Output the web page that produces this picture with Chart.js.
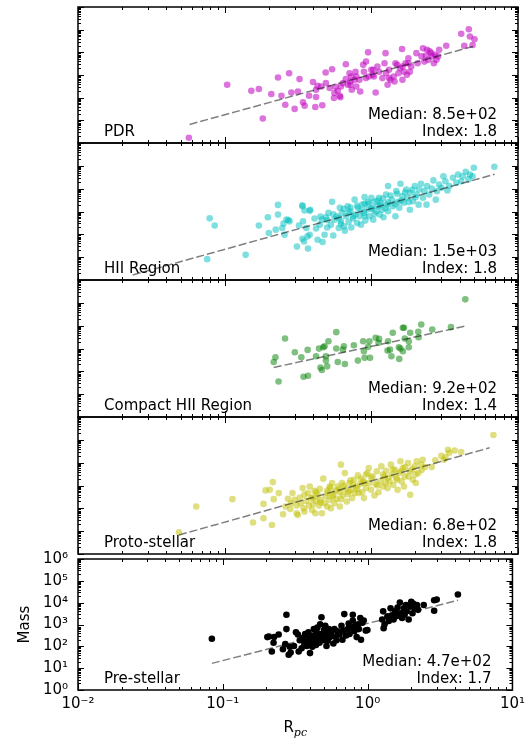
<!DOCTYPE html>
<html>
<head>
<meta charset="utf-8">
<script src="https://cdn.jsdelivr.net/npm/chart.js@4.4.1/dist/chart.umd.min.js"></script>
<style>
  body { margin: 0; background: #fff; }
  #wrap { position: relative; width: 530px; height: 739px; }
  canvas { position: absolute; left: 0; }
</style>
</head>
<body>
<div id="wrap">
  <canvas id="c0"></canvas>
  <canvas id="c1"></canvas>
  <canvas id="c2"></canvas>
  <canvas id="c3"></canvas>
  <canvas id="c4"></canvas>
</div>
<script>
// [R_pc, Mass]
const pdrPoints = [
  [0.057,1.7],[0.104,370],[0.152,200],[0.171,240],[0.182,12],[0.208,145],[0.231,780],[0.244,121],
  [0.259,49],[0.275,1200],[0.285,170],[0.300,32],[0.316,187],[0.324,660],[0.342,62],[0.351,44],
  [0.376,121],[0.40,490],[0.415,39],[0.42,224],[0.43,330],[0.463,46],[0.488,1290],[0.49,440],
  [0.52,265],[0.54,1800],[0.556,96],[0.56,160],[0.59,200],[0.61,120],[0.62,310],[0.64,440],
  [0.67,3000],[0.67,660],[0.71,1200],[0.72,370],[0.73,860],[0.735,224],[0.77,610],[0.78,1400],
  [0.79,310],[0.83,610],[0.84,187],[0.88,2800],[0.89,1400],[0.92,3900],[0.95,10000],[0.96,860],
  [1.0,1700],[1.02,1020],[1.04,860],[1.07,170],[1.1,2350],[1.13,1400],[1.19,730],[1.23,3300],
  [1.25,9200],[1.26,1200],[1.29,370],[1.32,1700],[1.35,610],[1.42,860],[1.44,520],[1.46,3300],
  [1.5,2800],[1.53,1200],[1.57,2000],[1.62,14000],[1.63,610],[1.67,1400],[1.71,3300],[1.75,1020],
  [1.79,5500],[1.83,1400],[1.87,2350],[2.03,9200],[2.07,3300],[2.25,15000],[2.3,3900],[2.35,7000],
  [2.4,13000],[2.45,4700],[2.56,9200],[2.6,6600],[2.67,3300],[2.72,7800],[2.85,6600],[2.9,13000],
  [3.24,19500],[4.10,66000],[4.3,19500],[4.62,105000],[4.7,50000],[4.9,21000],[5.05,38000],
  [0.42,107],[0.455,310],[0.57,300],[0.615,105],[0.69,370],[0.72,520],[0.79,860],[0.92,730],
  [1.03,1700],[1.32,730],[1.63,2350],[1.79,3300],[2.2,6600],[2.5,11000],[2.78,4700]
];
const hiiPoints = [
  [0.079,500],[0.0855,245],[0.076,8.2],[0.139,12.6],[0.171,245],[0.197,560],[0.20,114],[0.223,160],
  [0.231,730],[0.231,1950],[0.247,190],[0.252,295],[0.272,425],[0.256,96],[0.311,29],[0.321,245],
  [0.339,1700],[0.342,370],[0.339,64],[0.348,49],[0.367,81],[0.37,24],[0.38,1070],[0.264,440],
  [0.277,370],[0.339,1870],[0.35,1100],[0.36,190],[0.38,96],[0.383,1200],[0.41,490],[0.43,58],
  [0.445,265],[0.46,440],[0.465,46],[0.48,96],[0.49,560],[0.50,200],[0.51,870],[0.53,265],
  [0.54,2650],[0.55,89],[0.56,440],[0.58,615],[0.60,190],[0.61,1450],[0.62,370],[0.63,870],
  [0.65,224],[0.66,145],[0.67,615],[0.69,1700],[0.70,350],[0.72,1020],[0.73,200],[0.75,490],
  [0.77,3300],[0.78,730],[0.80,315],[0.81,1450],[0.83,615],[0.85,265],[0.87,2000],[0.89,870],
  [0.90,4250],[0.91,400],[0.93,1200],[0.96,2150],[0.97,615],[1.0,4000],[1.01,1450],[1.03,440],
  [1.05,2650],[1.08,1020],[1.10,1700],[1.13,4000],[1.14,730],[1.16,2400],[1.18,1200],[1.21,560],
  [1.26,5500],[1.28,2000],[1.30,13000],[1.30,1020],[1.38,3300],[1.40,1700],[1.46,615],[1.48,7800],
  [1.52,2650],[1.55,1450],[1.58,16500],[1.63,4700],[1.67,2400],[1.73,9200],[1.76,4000],[1.83,1200],
  [1.84,6600],[1.92,2800],[1.98,13000],[2.03,5500],[2.10,2000],[2.12,9200],[2.18,16500],[2.25,4000],
  [2.30,7800],[2.38,2000],[2.40,13000],[2.48,5500],[2.58,10200],[2.65,23000],[2.75,3300],[2.8,7800],
  [2.9,15000],[3.0,11000],[3.1,35000],[3.2,21000],[3.3,8300],[3.4,13000],[3.6,30000],[3.8,18000],
  [3.9,42000],[4.1,21000],[4.2,35000],[4.4,55000],[4.6,25500],[4.7,42000],[4.9,35000],[5.0,83000],
  [6.9,91000],[0.55,760],[0.6,520],[0.65,1300],[0.7,900],[0.75,620],[0.8,1800],[0.85,1100],
  [0.9,650],[0.95,2600],[1.0,1300],[1.05,800],[1.1,3000],[1.15,1900],[1.2,3700],[1.25,1400],
  [1.3,2500],[1.35,5000],[1.45,2100],[1.5,6000],[1.6,3000],[1.7,7000],[1.8,2600],[1.9,9000],
  [2.0,4200],[0.5,420],[0.45,600],[0.42,180],[0.62,280],[0.72,1500],[0.9,2200]
];
const chiiPoints = [
  [4.37,142000],[0.216,257],[0.222,410],[0.233,36],[0.258,2740],[0.301,680],[0.333,410],[0.345,58],
  [0.368,870],[0.37,64],[0.42,455],[0.44,990],[0.45,148],[0.46,114],[0.47,1130],[0.48,1250],
  [0.49,295],[0.50,165],[0.51,2090],[0.49,455],[0.577,5200],[0.577,1000],[0.59,257],[0.64,890],
  [0.65,1250],[0.66,210],[0.76,1380],[0.81,295],[0.88,2090],[0.89,760],[0.90,390],[0.95,1180],
  [0.97,2090],[0.98,390],[1.07,2950],[1.13,2630],[1.12,1780],[1.29,810],[1.30,2090],[1.34,890],
  [1.37,455],[1.40,4900],[1.54,1130],[1.58,1000],[1.55,350],[1.64,8100],[1.67,8100],[1.64,760],
  [1.69,2740],[1.80,2090],[1.80,1130],[1.84,4900],[2.09,5400],[2.10,3100],[2.19,11200],[2.60,6800],
  [3.49,8600]
];
const protoPoints = [
  [0.0488,8.9],[0.064,120],[0.113,252],[0.156,24],[0.184,37],[0.184,156],[0.19,610],[0.203,645],
  [0.21,18.5],[0.213,1410],[0.216,252],[0.234,465],[0.25,55],[0.26,120],[0.27,260],[0.28,94],
  [0.284,167],[0.29,465],[0.30,235],[0.31,61],[0.31,132],[0.315,51],[0.325,300],[0.33,167],
  [0.34,770],[0.345,100],[0.35,72],[0.36,212],[0.37,465],[0.375,132],[0.38,910],[0.39,280],
  [0.395,85],[0.40,150],[0.41,590],[0.415,61],[0.42,212],[0.43,390],[0.44,132],[0.445,710],
  [0.45,235],[0.46,61],[0.47,2000],[0.48,167],[0.49,330],[0.50,120],[0.505,465],[0.52,235],
  [0.525,770],[0.53,100],[0.54,1290],[0.545,330],[0.56,167],[0.57,590],[0.58,260],[0.59,910],
  [0.61,120],[0.61,510],[0.62,8200],[0.63,1290],[0.64,365],[0.66,3500],[0.665,710],[0.68,200],
  [0.69,420],[0.71,1290],[0.73,645],[0.74,280],[0.76,1780],[0.77,465],[0.79,910],[0.81,2770],
  [0.82,465],[0.84,1150],[0.865,510],[0.88,1620],[0.89,280],[0.92,770],[0.94,3500],[0.96,5850],
  [0.97,1290],[0.996,645],[1.02,2500],[1.05,365],[1.07,1150],[1.09,4200],[1.12,510],[1.15,1620],
  [1.17,6900],[1.20,910],[1.23,2500],[1.26,4450],[1.29,770],[1.33,1510],[1.36,8200],[1.38,2950],
  [1.41,1070],[1.45,4900],[1.48,2130],[1.51,645],[1.54,3500],[1.58,11500],[1.61,1510],[1.64,5850],
  [1.67,910],[1.69,2500],[1.78,9700],[1.83,4200],[1.84,390],[1.92,1780],[1.98,6900],[2.01,1290],
  [2.04,11500],[2.09,3500],[2.19,8200],[2.24,13500],[2.32,6500],[2.58,6500],[2.73,12800],[3.0,20000],
  [3.12,13500],[3.2,17400],[3.33,37000],[3.4,27000],[3.7,34000],[4.1,29000],[6.8,162000],
  [0.35,400],[0.4,300],[0.45,180],[0.5,600],[0.55,400],[0.6,700],[0.65,1000],[0.7,550],
  [0.75,1100],[0.8,700],[0.85,2000],[0.9,1300],[1.0,2200],[1.1,1000],[1.2,3000],[1.3,2200],
  [1.4,5000],[1.5,1800],[1.6,4300],[1.7,6500],[1.8,2500],[1.9,5200],[2.0,3000],[2.2,4800],
  [0.42,500],[0.52,900],[0.62,250],[0.72,1700],[0.92,3000],[1.25,1300]
];
const prePoints = [
  [0.084,223],[0.203,265],[0.208,283],[0.218,58],[0.224,145],[0.226,265],[0.243,350],[0.26,73],
  [0.27,126],[0.275,2800],[0.275,615],[0.285,41],[0.29,96],[0.294,52],[0.31,103],[0.32,440],
  [0.33,350],[0.334,58],[0.34,190],[0.35,81],[0.36,245],[0.366,126],[0.37,370],[0.38,103],
  [0.38,160],[0.39,440],[0.395,265],[0.40,49],[0.40,126],[0.41,190],[0.415,96],[0.42,315],
  [0.425,615],[0.43,160],[0.44,223],[0.44,115],[0.445,440],[0.45,725],[0.46,265],[0.465,145],
  [0.47,1020],[0.48,2150],[0.48,370],[0.49,190],[0.50,555],[0.505,265],[0.51,870],[0.52,103],
  [0.52,350],[0.53,178],[0.54,615],[0.55,265],[0.56,440],[0.58,135],[0.59,615],[0.60,283],
  [0.61,190],[0.62,490],[0.64,350],[0.66,870],[0.67,200],[0.68,525],[0.69,3000],[0.71,315],
  [0.73,615],[0.74,1100],[0.75,370],[0.77,725],[0.79,1520],[0.79,2800],[0.81,490],[0.82,870],
  [0.84,265],[0.86,1020],[0.87,615],[0.89,2000],[0.90,200],[0.92,1200],[0.94,1520],[0.97,525],
  [0.996,555],[1.26,1700],[1.28,4000],[1.29,680],[1.31,1020],[1.37,2400],[1.40,1450],[1.44,5500],
  [1.47,2650],[1.51,1700],[1.55,4000],[1.58,2400],[1.61,6000],[1.67,10200],[1.68,3300],[1.73,2000],
  [1.78,5500],[1.80,2800],[1.84,7800],[1.86,4000],[1.92,1700],[1.98,6600],[2.0,11000],[2.04,3300],
  [2.06,9200],[2.12,5500],[2.19,7800],[2.23,4700],[2.44,7800],[2.88,4250],[2.88,13000],[3.0,13800],
  [4.2,23500]
];

// fitted power laws: end points [R], [Mass]
const pdrFitR = [0.0577, 4.93],  pdrFitM = [6.6, 18200];
const hiiFitR = [0.0236, 6.93],  hiiFitM = [1.66, 42700];
const chiiFitR = [0.216, 4.38],  chiiFitM = [148, 9550];
const protoFitR = [0.0488, 6.4], protoFitM = [6.8, 44700];
const preFitR = [0.084, 4.21],   preFitM = [16.6, 12900];

const panelNames = ['PDR', 'HII Region', 'Compact HII Region', 'Proto-stellar', 'Pre-stellar'];
const medians = ['8.5e+02', '1.5e+03', '9.2e+02', '6.8e+02', '4.7e+02'];
const indices = ['1.8', '1.8', '1.4', '1.8', '1.7'];
const xTicks = [0.01, 0.1, 1, 10];
const yTicks = [1, 10, 100, 1000, 10000, 100000, 1000000];

const colors = ['rgba(191,0,191,0.55)', 'rgba(0,191,191,0.5)', 'rgba(0,128,0,0.5)',
                'rgba(191,191,0,0.5)', 'rgba(0,0,0,1)'];
const edges = [7, 143, 280, 417, 554, 690];
const FONT = '"DejaVu Sans"';

Chart.defaults.font.family = FONT;
Chart.defaults.color = '#000';

const sup = { '-': '\u207B', '0': '\u2070', '1': '\u00B9', '2': '\u00B2', '3': '\u00B3',
              '4': '\u2074', '5': '\u2075', '6': '\u2076' };
function powLabel(v) {
  const e = String(Math.round(Math.log10(v)));
  return '10' + e.split('').map(c => sup[c]).join('');
}

const framePlugin = {
  id: 'frame',
  afterDatasetsDraw(chart, args, opts) {
    const { ctx, chartArea: a, scales: { x, y } } = chart;
    ctx.save();
    ctx.strokeStyle = '#000';
    ctx.lineWidth = 1;
    ctx.beginPath();
    for (let e = -2; e <= 1; e++) {
      for (let m = 1; m <= 9; m++) {
        const v = m * Math.pow(10, e);
        if (v > 10.0001) continue;
        const px = Math.round(x.getPixelForValue(v)) + 0.5;
        const len = m === 1 ? 6 : 3;
        ctx.moveTo(px, a.top); ctx.lineTo(px, a.top + len);
        ctx.moveTo(px, a.bottom); ctx.lineTo(px, a.bottom - len);
      }
    }
    for (let e = 0; e <= 6; e++) {
      for (let m = 1; m <= 9; m++) {
        const v = m * Math.pow(10, e);
        if (v > 1000001) continue;
        const py = Math.round(y.getPixelForValue(v)) + 0.5;
        const len = m === 1 ? 6 : 3;
        ctx.moveTo(a.left, py); ctx.lineTo(a.left + len, py);
        ctx.moveTo(a.right, py); ctx.lineTo(a.right - len, py);
      }
    }
    ctx.stroke();
    ctx.lineWidth = 1.5;
    ctx.strokeRect(a.left, a.top, a.right - a.left, a.bottom - a.top);

    ctx.fillStyle = '#000';
    ctx.font = '15px ' + FONT;
    ctx.textBaseline = 'alphabetic';
    ctx.textAlign = 'left';
    ctx.fillText(opts.name, a.left + 26, a.bottom - 7);
    ctx.textAlign = 'right';
    ctx.fillText('Median: ' + opts.median, a.right - 21, a.bottom - 24);
    ctx.fillText('Index: ' + opts.index, a.right - 21, a.bottom - 7);

    if (opts.xTitle) {
      ctx.textAlign = 'left';
      ctx.font = '15px ' + FONT;
      const wR = ctx.measureText('R').width;
      ctx.font = 'italic 11px "DejaVu Serif"';
      const wS = ctx.measureText('pc').width;
      const x0 = (a.left + a.right) / 2 - (wR + wS) / 2;
      ctx.font = '15px ' + FONT;
      ctx.fillText('R', x0, a.bottom + 42);
      ctx.font = 'italic 11px "DejaVu Serif"';
      ctx.fillText('pc', x0 + wR, a.bottom + 46);
    }
    ctx.restore();
  }
};

function makePanel(i, points, fitR, fitM) {
  const bottom = i === 4;
  const canvas = document.getElementById('c' + i);
  const top = edges[i] - 14;
  const h = bottom ? 739 - top : edges[i + 1] - edges[i] + 28;
  canvas.width = 530;
  canvas.height = h;
  canvas.style.top = top + 'px';

  new Chart(canvas, {
    type: 'scatter',
    data: {
      datasets: [
        {
          type: 'line',
          data: fitR.map((r, k) => ({ x: r, y: fitM[k] })),
          borderColor: 'rgba(0,0,0,0.5)',
          borderWidth: 1.5,
          borderDash: [8, 3],
          pointRadius: 0,
          fill: false,
          order: 0
        },
        {
          data: points.map(p => ({ x: p[0], y: p[1] })),
          backgroundColor: colors[i],
          borderWidth: 0,
          pointRadius: 3.3,
          pointHoverRadius: 3.3,
          order: 1
        }
      ]
    },
    options: {
      responsive: false,
      animation: false,
      events: [],
      layout: {
        padding: bottom ? { left: 0, right: 12, top: 14, bottom: 0 }
                        : { left: 78, right: 12, top: 14, bottom: 14 }
      },
      plugins: {
        legend: { display: false },
        tooltip: { enabled: false },
        frame: { name: panelNames[i], median: medians[i], index: indices[i], xTitle: bottom }
      },
      scales: {
        x: {
          type: 'logarithmic', min: 0.01, max: 10,
          display: bottom,
          grid: { display: false, drawTicks: false },
          border: { display: false },
          afterBuildTicks: s => { s.ticks = xTicks.map(v => ({ value: v })); },
          afterFit: s => { if (bottom) s.height = 49; },
          ticks: { autoSkip: false, maxRotation: 0, padding: 5, font: { size: 15 }, callback: v => powLabel(v) }
        },
        y: {
          type: 'logarithmic', min: 1, max: 1e6,
          display: bottom,
          grid: { display: false, drawTicks: false },
          border: { display: false },
          afterBuildTicks: s => { s.ticks = yTicks.map(v => ({ value: v })); },
          afterFit: s => { if (bottom) s.width = 78; },
          ticks: { autoSkip: false, padding: 10, font: { size: 15 }, callback: v => powLabel(v) },
          title: { display: true, text: 'Mass', font: { size: 15 }, padding: { top: 16, bottom: 0 } }
        }
      }
    },
    plugins: [framePlugin]
  });
}

makePanel(0, pdrPoints, pdrFitR, pdrFitM);
makePanel(1, hiiPoints, hiiFitR, hiiFitM);
makePanel(2, chiiPoints, chiiFitR, chiiFitM);
makePanel(3, protoPoints, protoFitR, protoFitM);
makePanel(4, prePoints, preFitR, preFitM);
</script>
</body>
</html>
